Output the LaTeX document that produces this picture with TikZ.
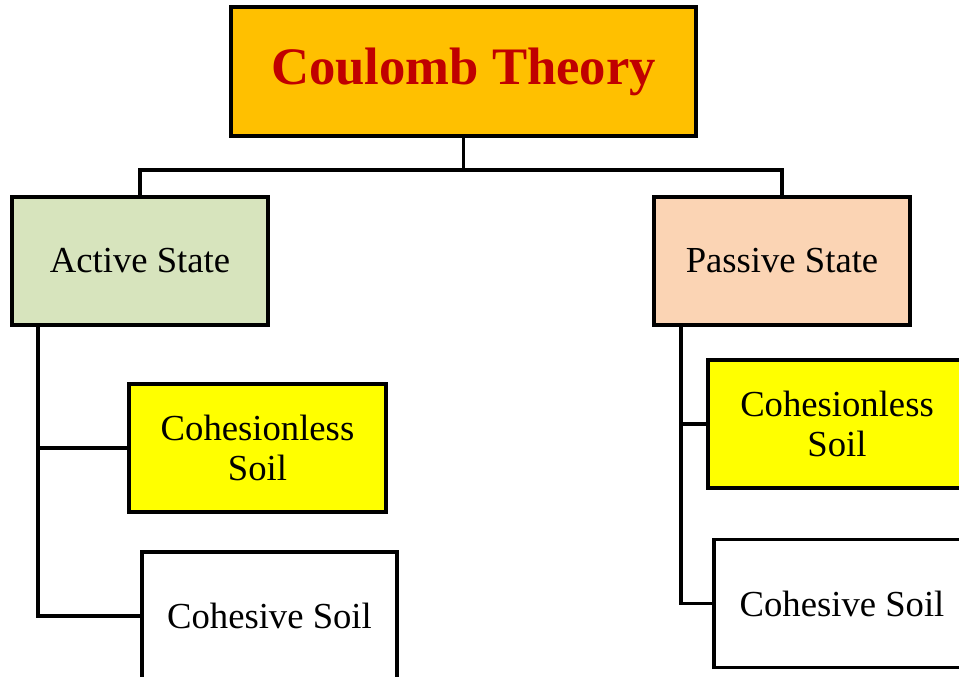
\documentclass[tikz,border=0pt]{standalone}
\usepackage{fontspec}
\setmainfont{Liberation Serif}
\definecolor{titlefill}{HTML}{FFC000}
\definecolor{titletext}{HTML}{C00000}
\definecolor{activefill}{HTML}{D7E4BD}
\definecolor{passivefill}{HTML}{FBD4B4}
\definecolor{soilyellow}{HTML}{FFFF00}
\tikzset{
  box/.style={draw=black, line width=2.8pt, rectangle, inner sep=0pt, align=center,
    minimum width=192pt, minimum height=96pt,
    font=\fontsize{27.5}{29.5}\selectfont},
  conn/.style={draw=black, line width=2.4pt},
}
\begin{document}
\begin{tikzpicture}[x=0.75pt,y=-0.75pt]
\clip (0,0) rectangle (959,677);
\fill[white] (0,0) rectangle (959,677);

\node[box, fill=titlefill, minimum width=348.75pt, minimum height=96.75pt,
  text=titletext, font=\fontsize{39.5}{44}\selectfont\bfseries] (title) at (463.5,71.5) {Coulomb Theory};

\node[box, fill=activefill] (act) at (140,261) {Active State};
\node[box, fill=passivefill] (pas) at (782,261) {Passive State};

\node[box, fill=soilyellow, minimum width=192.75pt] (acl) at (257.5,448) {Cohesionless\\Soil};
\node[box, fill=white, minimum width=191.25pt] (aco) at (269.5,616) {Cohesive Soil};

\node[box, fill=soilyellow, minimum width=193.5pt] (pcl) at (837,424) {Cohesionless\\Soil};
\node[box, fill=white] (pco) at (842,603.5) {Cohesive Soil};

\coordinate (bus) at (0,170);
\coordinate (atrunk) at (38,0);
\coordinate (ptrunk) at (681,0);

\draw[conn] (title.south) -- (title.south |- bus);
\draw[conn] (act.north) -- (act.north |- bus) -- (pas.north |- bus) -- (pas.north);

\draw[conn] (act.south -| atrunk) |- (aco.west);
\draw[conn] (acl.west) -- (acl.west -| atrunk);

\draw[conn] (pas.south -| ptrunk) |- (pco.west);
\draw[conn] (pcl.west) -- (pcl.west -| ptrunk);
\end{tikzpicture}
\end{document}
